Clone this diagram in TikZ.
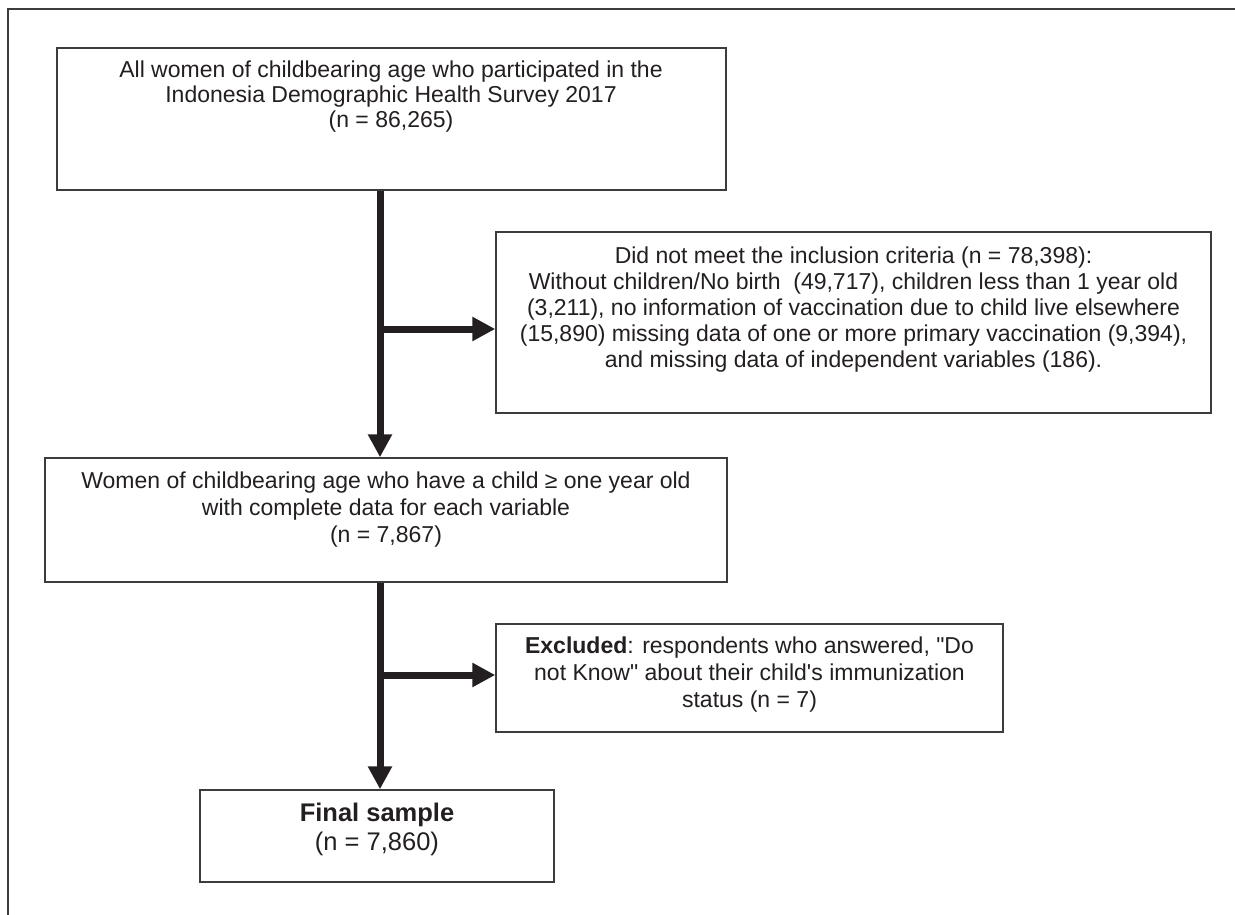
\documentclass[tikz,border=0pt]{standalone}
\usepackage{fontspec}
\newfontfamily\arialf{Liberation Sans}
\usetikzlibrary{arrows.meta,calc}
\definecolor{ink}{HTML}{231F20}
\definecolor{edge}{HTML}{3C3C3C}
\begin{document}
\begin{tikzpicture}[x=1pt,y=-1pt,
  box/.style={draw=edge,line width=1.5pt,fill=white,rectangle,inner sep=0pt},
  txt/.style={align=center,text=ink,inner sep=0pt},
  flow/.style={draw=ink,line width=7pt,-{Triangle[width=23pt,length=23pt]}}]
\useasboundingbox (0,0) rectangle (1235,915);
\draw[edge,line width=1.5pt] (8,915) -- (8,9) -- (1235,9);

\node[box,minimum width=669pt,minimum height=142pt] (b1) at (391.5,119) {};
\node[box,minimum width=715pt,minimum height=181pt] (b2) at (853.5,322.5) {};
\node[box,minimum width=682pt,minimum height=124pt] (b3) at (386,520) {};
\node[box,minimum width=507pt,minimum height=108pt] (b4) at (749.5,678) {};
\node[box,minimum width=354pt,minimum height=92pt] (b5) at (377,836) {};

\node[txt,font=\arialf\fontsize{23}{25}\selectfont] (t1) at (391,97) {All women of childbearing age who participated in the\\Indonesia Demographic Health Survey 2017\\(n = 86,265)};
\node[txt,font=\arialf\fontsize{23}{26.2}\selectfont] (t2) at (853.5,309.5) {Did not meet the inclusion criteria (n = 78,398):\\Without children/No birth \ (49,717), children less than 1 year old\\(3,211), no information of vaccination due to child live elsewhere\\(15,890) missing data of one or more primary vaccination (9,394),\\and missing data of independent variables (186).};
\node[txt,font=\arialf\fontsize{23}{27}\selectfont] (t3) at (386,510) {Women of childbearing age who have a child ≥ one year old\\with complete data for each variable\\(n = 7,867)};
\node[txt,font=\arialf\fontsize{23}{27}\selectfont] (t4) at (749.5,675) {\textbf{Excluded}: respondents who answered, "Do\\not Know" about their child's immunization\\status (n = 7)};
\node[txt,font=\arialf\fontsize{25.5}{29}\selectfont] (t5) at (377,829) {\textbf{Final sample}\\(n = 7,860)};

\coordinate (spine) at (380,0);
\coordinate (br1) at (380,329);
\coordinate (br2) at (380,675);

\draw[flow] (b1.south -| spine) -- (b3.north -| spine);
\draw[flow] (br1) -- (br1 -| b2.west);
\draw[flow] (b3.south -| spine) -- (b5.north -| spine);
\draw[flow] (br2) -- (br2 -| b4.west);
\end{tikzpicture}
\end{document}
